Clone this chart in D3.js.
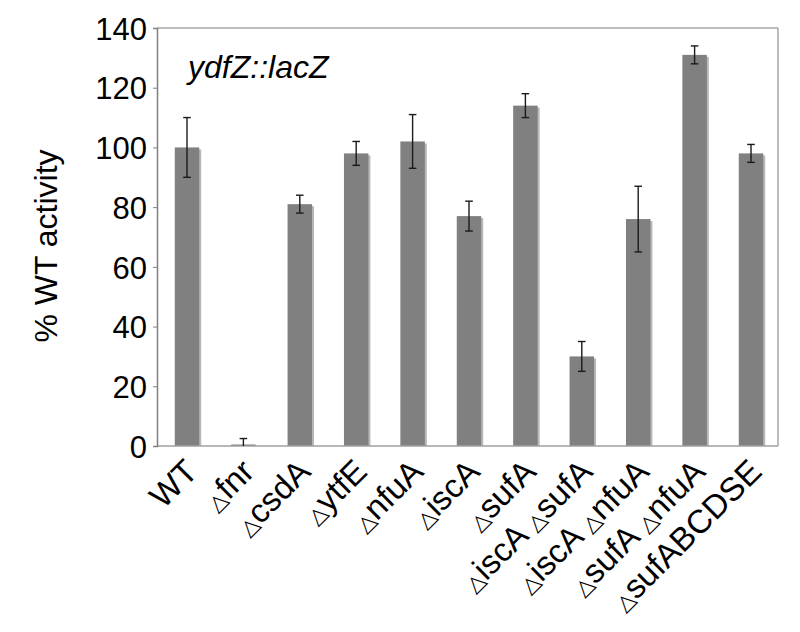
<!DOCTYPE html>
<html><head><meta charset="utf-8">
<script src="https://cdn.jsdelivr.net/npm/d3@7"></script>
<style>body{margin:0;background:#fff}svg{display:block}</style>
</head><body>
<script>
const categories = ["WT","Δfnr","ΔcsdA","ΔytfE","ΔnfuA","ΔiscA","ΔsufA","ΔiscA ΔsufA","ΔiscA ΔnfuA","ΔsufA ΔnfuA","ΔsufABCDSE"];
const values = [100, 0.5, 81, 98, 102, 77, 114, 30, 76, 131, 98];
const errors = [10, 2, 3, 4, 9, 5, 4, 5, 11, 3, 3];
const yTicks = [0, 20, 40, 60, 80, 100, 120, 140];
const yLabel = "% WT activity";
const title = "ydfZ::lacZ";

(function () {
const W = 800, H = 632;
const svg = d3.select("body").append("svg").attr("width", W).attr("height", H);
const pLeft = 157, pRight = 778, pTop = 28, pBottom = 446;

const x = d3.scaleBand().domain(categories).range([pLeft + 1.8, pRight + 1.2])
  .paddingInner(0.566).paddingOuter(0.283);
const y = d3.scaleLinear().domain([0, 140]).range([pBottom, pTop]);

// frame
svg.append("line").attr("x1", pLeft).attr("x2", pRight).attr("y1", pTop).attr("y2", pTop)
  .attr("stroke", "#a6a6a6").attr("stroke-width", 1.5);
svg.append("line").attr("x1", pRight).attr("x2", pRight).attr("y1", pTop).attr("y2", pBottom)
  .attr("stroke", "#a6a6a6").attr("stroke-width", 1.5);

// bars shadow + bars
const g = svg.append("g");
g.selectAll("rect.sh").data(values).join("rect").attr("class", "sh")
  .attr("x", (d, i) => x(categories[i]) + 2)
  .attr("y", d => y(d) + 2)
  .attr("width", x.bandwidth())
  .attr("height", d => Math.max(0, pBottom - y(d) - 2))
  .attr("fill", "#b8b8b8");
g.selectAll("rect.bar").data(values).join("rect").attr("class", "bar")
  .attr("x", (d, i) => x(categories[i]))
  .attr("y", d => y(d))
  .attr("width", x.bandwidth())
  .attr("height", d => pBottom - y(d))
  .attr("fill", "#808080");

// bottom axis line
svg.append("line").attr("x1", pLeft).attr("x2", pRight).attr("y1", pBottom).attr("y2", pBottom)
  .attr("stroke", "#a0a0a0").attr("stroke-width", 1.5);

// error bars
const eg = svg.append("g").attr("stroke", "#1a1a1a").attr("stroke-width", 1.4);
values.forEach((v, i) => {
  const cx = x(categories[i]) + x.bandwidth() / 2;
  const lo = Math.max(0, v - errors[i]), hi = v + errors[i];
  eg.append("line").attr("x1", cx).attr("x2", cx).attr("y1", y(lo)).attr("y2", y(hi));
  eg.append("line").attr("x1", cx - 3.8).attr("x2", cx + 3.8).attr("y1", y(hi)).attr("y2", y(hi));
  if (v - errors[i] > 0)
    eg.append("line").attr("x1", cx - 3.8).attr("x2", cx + 3.8).attr("y1", y(lo)).attr("y2", y(lo));
});

// y axis
const ya = svg.append("g").attr("transform", `translate(${pLeft},0)`)
  .call(d3.axisLeft(y).tickValues(yTicks).tickSize(4).tickPadding(6));
ya.select(".domain").attr("stroke", "#808080").attr("stroke-width", 1.5);
ya.selectAll(".tick line").attr("stroke", "#808080");
ya.selectAll(".tick text").attr("font-family", "Liberation Sans, Arial, sans-serif")
  .attr("font-size", 31).attr("fill", "#000").attr("dy", "0.36em");

// y label
svg.append("text").attr("transform", "translate(57,246) rotate(-90)")
  .attr("text-anchor", "middle").attr("font-family", "Liberation Sans, Arial, sans-serif")
  .attr("font-size", 32).text(yLabel);

// title
svg.append("text").attr("x", 188).attr("y", 77.5)
  .attr("font-family", "Liberation Sans, Arial, sans-serif").attr("font-size", 32)
  .attr("font-style", "italic").text(title);

// x labels
categories.forEach((c, i) => {
  const cx = x(c) + x.bandwidth() / 2;
  const t = svg.append("text")
    .attr("transform", `translate(${cx + 12.5},${473.5}) rotate(-45)`)
    .attr("text-anchor", "end")
    .attr("font-family", "Liberation Sans, Arial, sans-serif")
    .attr("font-size", 33);
  const tokens = c.split(" ");
  tokens.forEach((tok, k) => {
    if (k > 0) t.append("tspan").text(" ");
    if (tok.startsWith("Δ")) {
      t.append("tspan").attr("font-family", "DejaVu Sans").attr("font-size", 22).text("△");
      t.append("tspan").text(tok.slice(1));
    } else {
      t.append("tspan").text(tok);
    }
  });
});
})();
</script>
</body></html>
